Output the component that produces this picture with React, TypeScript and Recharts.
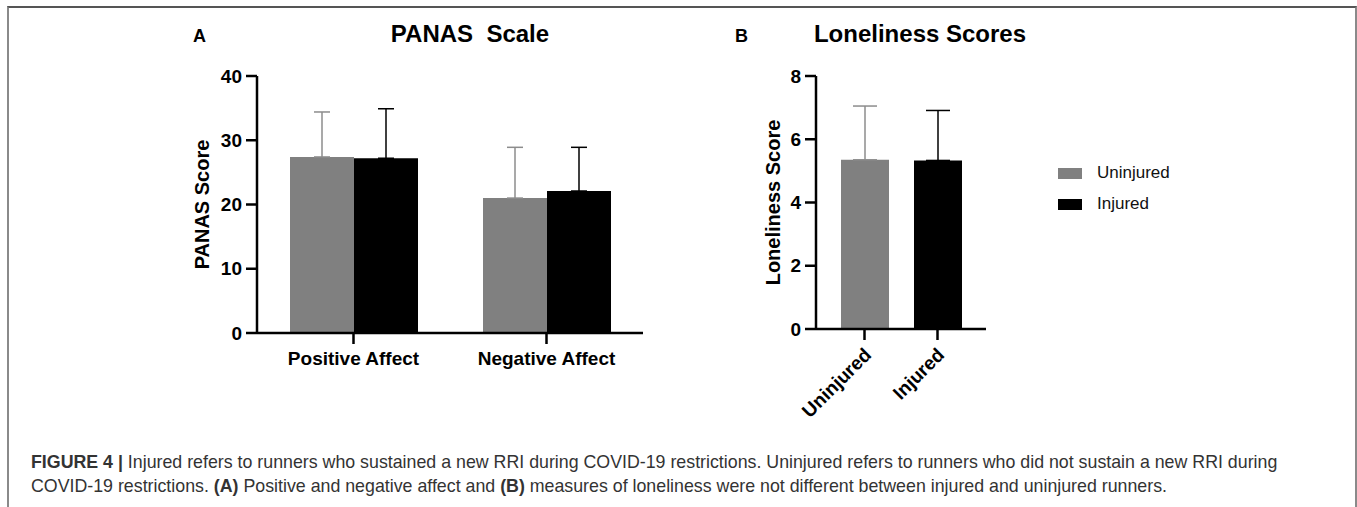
import React from 'react';
import { BarChart, Bar, XAxis, YAxis, ErrorBar, Cell } from 'recharts';

// Panel A - PANAS
const panasCategories = ['Positive Affect', 'Negative Affect'];
const panasUninjured = [27.4, 21.0];
const panasUninjuredSd = [7.0, 7.9];
const panasInjured = [27.2, 22.1];
const panasInjuredSd = [7.7, 6.8];
const panasTicks = [0, 10, 20, 30, 40];

// Panel B - Loneliness
const lonelyCategories = ['Uninjured', 'Injured'];
const lonelyValues = [5.35, 5.33];
const lonelySd = [1.7, 1.58];
const lonelyTicks = [0, 2, 4, 6, 8];

const groups = ['Uninjured', 'Injured'];
const GREY = '#808080';
const ERR_GREY = '#8c8c8c';
const FONT = "'Liberation Sans', Arial, Helvetica, sans-serif";

const panasData = panasCategories.map((name, i) => ({
  name,
  uninjured: panasUninjured[i],
  injured: panasInjured[i],
  uninjuredErr: [0, panasUninjuredSd[i]],
  injuredErr: [0, panasInjuredSd[i]],
}));

const lonelyData = lonelyCategories.map((name, i) => ({
  name,
  value: lonelyValues[i],
  sd: lonelySd[i],
}));

const tickStyle = { fontSize: 19, fontWeight: 700, fill: '#000', fontFamily: FONT };
const axisStroke = { stroke: '#000', strokeWidth: 2.5 };

const RotatedTick = ({ x, y, payload }: any) => (
  <g transform={`translate(${x + 8},${y + 14})`}>
    <text transform="rotate(-45)" textAnchor="end" style={tickStyle}>
      {payload.value}
    </text>
  </g>
);

const abs = (left: number, top: number): React.CSSProperties => ({ position: 'absolute', left, top });

export default function App() {
  return (
    <div style={{ position: 'absolute', left: 0, top: 0, width: 1357, height: 507, overflow: 'hidden', background: '#fff', fontFamily: FONT }}>
      {/* frame */}
      <div
        style={{
          position: 'absolute',
          left: 7,
          top: 6,
          width: 1350,
          height: 501,
          borderTop: '2px solid #555',
          borderLeft: '2px solid #8a8a8a',
          borderRight: '2px solid #8a8a8a',
          boxSizing: 'border-box',
        }}
      />

      {/* titles */}
      <div style={{ ...abs(193, 25), fontSize: 18, fontWeight: 700, lineHeight: '22px' }}>A</div>
      <div style={{ position: 'absolute', left: 270, width: 400, top: 20, textAlign: 'center', fontSize: 24, fontWeight: 700, whiteSpace: 'pre', lineHeight: '28px' }}>
        PANAS  Scale
      </div>
      <div style={{ ...abs(735, 25), fontSize: 18, fontWeight: 700, lineHeight: '22px' }}>B</div>
      <div style={{ position: 'absolute', left: 720, width: 400, top: 20, textAlign: 'center', fontSize: 24, fontWeight: 700, lineHeight: '28px' }}>
        Loneliness Scores
      </div>

      {/* Panel A */}
      <div style={abs(140, 50)}>
        <BarChart width={520} height={340} data={panasData} barGap={0} margin={{ top: 26, right: 17, bottom: 17, left: 10 }}>
          <XAxis
            dataKey="name"
            interval={0}
            height={40}
            tick={tickStyle}
            tickSize={11}
            tickMargin={8}
            axisLine={axisStroke}
            tickLine={axisStroke}
          />
          <YAxis
            domain={[0, 40]}
            ticks={panasTicks}
            width={107}
            tick={tickStyle}
            tickSize={11}
            tickMargin={4}
            axisLine={axisStroke}
            tickLine={axisStroke}
            label={{
              value: 'PANAS Score',
              angle: -90,
              position: 'insideLeft',
              offset: 52,
              style: { textAnchor: 'middle', fontSize: 20, fontWeight: 700, fill: '#000', fontFamily: FONT },
            }}
          />
          <Bar dataKey="uninjured" fill={GREY} barSize={64} isAnimationActive={false}>
            <ErrorBar dataKey="uninjuredErr" width={8} stroke={ERR_GREY} strokeWidth={1.5} />
          </Bar>
          <Bar dataKey="injured" fill="#000" barSize={64} isAnimationActive={false}>
            <ErrorBar dataKey="injuredErr" width={8} stroke="#000" strokeWidth={1.5} />
          </Bar>
        </BarChart>
      </div>

      {/* Panel B */}
      <div style={abs(700, 50)}>
        <BarChart width={330} height={400} data={lonelyData} margin={{ top: 26, right: 44, bottom: 21, left: 10 }}>
          <XAxis
            dataKey="name"
            interval={0}
            height={100}
            padding={{ left: 12, right: 12 }}
            tick={<RotatedTick />}
            tickSize={11}
            axisLine={axisStroke}
            tickLine={axisStroke}
          />
          <YAxis
            domain={[0, 8]}
            ticks={lonelyTicks}
            width={106}
            tick={tickStyle}
            tickSize={11}
            tickMargin={4}
            axisLine={axisStroke}
            tickLine={axisStroke}
            label={{
              value: 'Loneliness Score',
              angle: -90,
              position: 'insideLeft',
              offset: 63,
              style: { textAnchor: 'middle', fontSize: 20, fontWeight: 700, fill: '#000', fontFamily: FONT },
            }}
          />
          <Bar dataKey="value" barSize={48} isAnimationActive={false}>
            {lonelyData.map((d, i) => (
              <Cell key={d.name} fill={i === 0 ? GREY : '#000'} />
            ))}
            <ErrorBar
              dataKey={(d: any) => (d.name === 'Uninjured' ? [0, d.sd] : null)}
              width={12}
              stroke={ERR_GREY}
              strokeWidth={1.5}
            />
            <ErrorBar
              dataKey={(d: any) => (d.name === 'Injured' ? [0, d.sd] : null)}
              width={12}
              stroke="#000"
              strokeWidth={1.5}
            />
          </Bar>
        </BarChart>
      </div>

      {/* legend */}
      {groups.map((g, i) => (
        <div key={g} style={{ ...abs(1058, 162 + i * 31), display: 'flex', alignItems: 'center', height: 22 }}>
          <div style={{ width: 24, height: 11, background: i === 0 ? GREY : '#000' }} />
          <span style={{ marginLeft: 15, fontSize: 17, color: '#111' }}>{g}</span>
        </div>
      ))}

      {/* caption */}
      <div style={{ ...abs(31, 450), fontSize: 17.8, lineHeight: '24px', color: '#333', whiteSpace: 'nowrap' }}>
        <div>
          <b>FIGURE 4 |</b> Injured refers to runners who sustained a new RRI during COVID-19 restrictions. Uninjured refers to runners who did not sustain a new RRI during
        </div>
        <div>
          COVID-19 restrictions. <b>(A)</b> Positive and negative affect and <b>(B)</b> measures of loneliness were not different between injured and uninjured runners.
        </div>
      </div>
    </div>
  );
}
